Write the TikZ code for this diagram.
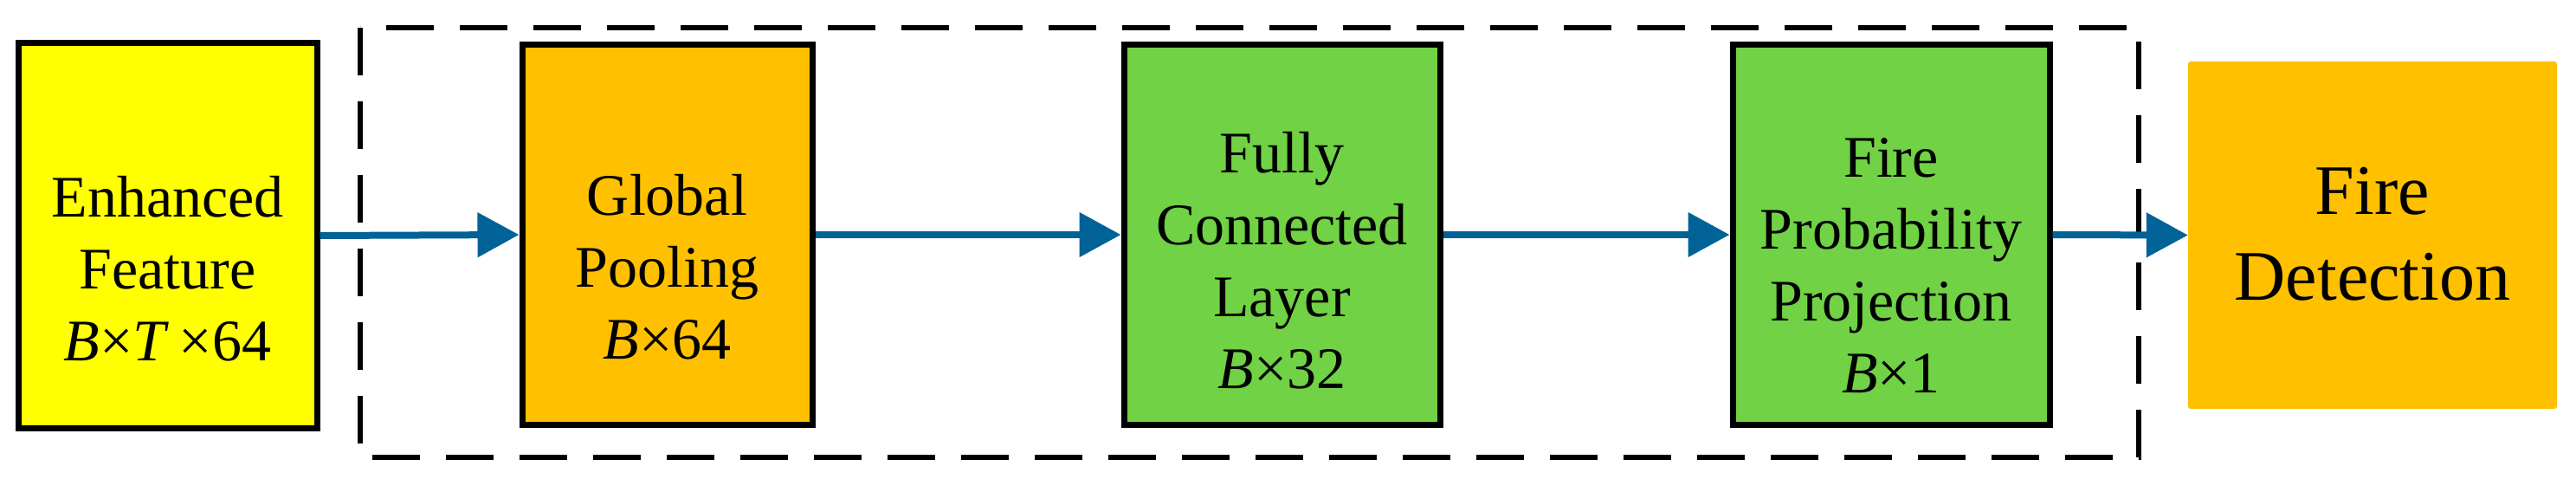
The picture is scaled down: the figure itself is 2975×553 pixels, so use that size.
\documentclass[tikz,border=0pt]{standalone}
\usepackage{fontspec}
\setmainfont{Liberation Serif}
\usetikzlibrary{arrows.meta}
\definecolor{cyel}{RGB}{255,255,0}
\definecolor{corg}{RGB}{255,192,0}
\definecolor{cgrn}{RGB}{112,210,68}
\definecolor{cblu}{RGB}{0,98,150}
\begin{document}
\begin{tikzpicture}[x=1pt,y=-1pt,
  box/.style={draw=black,line width=7pt,inner sep=0pt},
  lbl/.style={align=center,anchor=base,font=\fontsize{68}{83}\selectfont,inner sep=0pt},
  conn/.style={draw=cblu,line width=8pt,-{Triangle[length=48pt,width=50pt]}}]
\useasboundingbox (0,0) rectangle (2975,553);
\draw[line width=6pt,dash pattern=on 55pt off 30pt] (416,32) rectangle (2470,528);
\node[box,fill=cyel,minimum width=345pt,minimum height=444pt] (ef) at (193.5,272) {};
\node[box,fill=corg,minimum width=335pt,minimum height=438pt] (gp) at (770.5,271) {};
\node[box,fill=cgrn,minimum width=365pt,minimum height=438pt] (fc) at (1480.5,271) {};
\node[box,fill=cgrn,minimum width=366pt,minimum height=438pt] (fp) at (2184,271) {};
\node[fill=corg,rounded corners=3pt,minimum width=426pt,minimum height=401pt,inner sep=0pt] (fd) at (2740,271.5) {};
\node[lbl] (tef) at (193.5,416) {Enhanced\\Feature\\\textit{B}×\textit{T}\,×64};
\node[lbl] (tgp) at (770.5,414) {Global\\Pooling\\\textit{B}×64};
\node[lbl] (tfc) at (1480.5,448) {Fully\\Connected\\Layer\\\textit{B}×32};
\node[lbl] (tfp) at (2184,453) {Fire\\Probability\\Projection\\\textit{B}×1};
\node[lbl,font=\fontsize{82}{100}\selectfont] (tfd) at (2740,347) {Fire\\Detection};
\draw[conn] (ef.east) -- (gp.west);
\draw[conn] (gp.east) -- (fc.west);
\draw[conn] (fc.east) -- (fp.west);
\draw[conn] (fp.east) -- (fd.west);
\end{tikzpicture}
\end{document}
